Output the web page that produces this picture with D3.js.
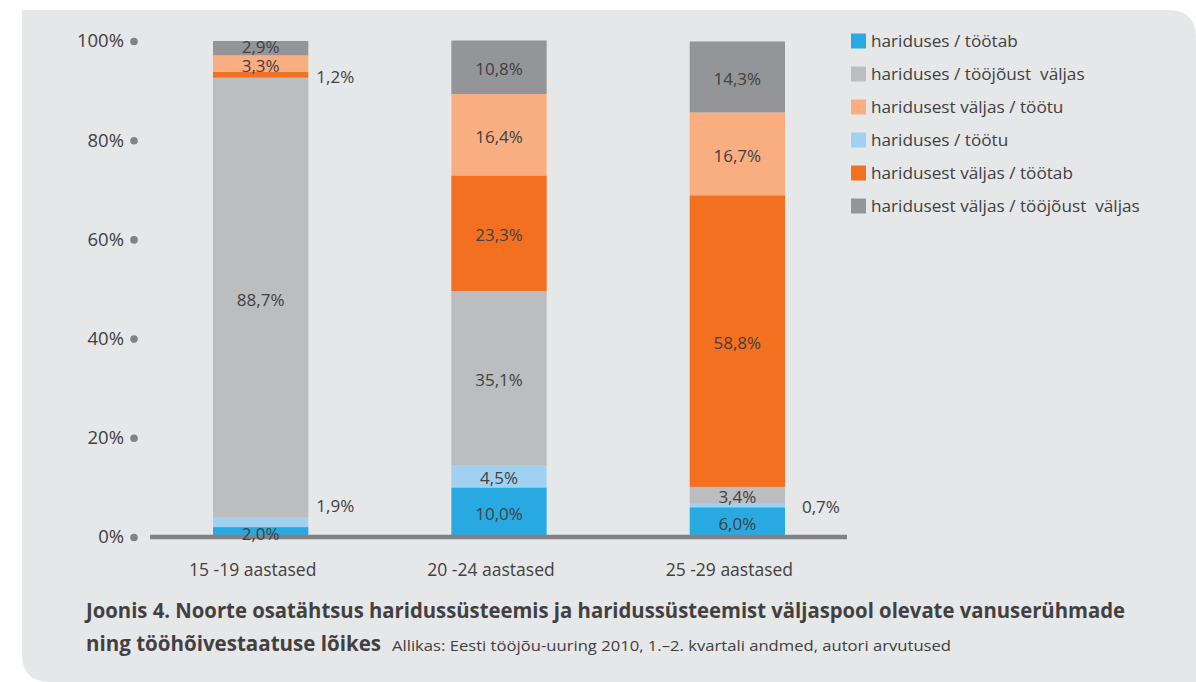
<!DOCTYPE html>
<html>
<head>
<meta charset="utf-8">
<script src="https://cdn.jsdelivr.net/npm/d3@7"></script>
<style>
  html, body { margin: 0; padding: 0; background: #ffffff; }
  svg { display: block; }
  text { font-family: "Open Sans", "Noto Sans", sans-serif; fill: #414042; white-space: pre; }
</style>
</head>
<body>
<div id="container"></div>
<script>
/* CONSTANTS AND GLOBALS */
const width = 1196,
    height = 682;

// DATA
const categories = ["15 -19 aastased", "20 -24 aastased", "25 -29 aastased"];
const keys = ["hTootab", "hTootu", "hValjas", "vTootab", "vTootu", "vValjas"];
const seriesNames = {
    hTootab: "hariduses / töötab",
    hTootu: "hariduses / töötu",
    hValjas: "hariduses / tööjõust  väljas",
    vTootab: "haridusest väljas / töötab",
    vTootu: "haridusest väljas / töötu",
    vValjas: "haridusest väljas / tööjõust  väljas"
};
const hTootab = [2.0, 10.0, 6.0];
const hTootu = [1.9, 4.5, 0.7];
const hValjas = [88.7, 35.1, 3.4];
const vTootab = [1.2, 23.3, 58.8];
const vTootu = [3.3, 16.4, 16.7];
const vValjas = [2.9, 10.8, 14.3];
const legendOrder = ["hTootab", "hValjas", "vTootu", "hTootu", "vTootab", "vValjas"];
const yTicks = [0, 20, 40, 60, 80, 100];
const captionBold1 = "Joonis 4. Noorte osatähtsus haridussüsteemis ja haridussüsteemist väljaspool olevate vanuserühmade";
const captionBold2 = "ning tööhõivestaatuse lõikes";
const captionSource = "Allikas: Eesti tööjõu-uuring 2010, 1.–2. kvartali andmed, autori arvutused";

const seriesValues = { hTootab, hTootu, hValjas, vTootab, vTootu, vValjas };
const colors = {
    hTootab: "#29a9e1",
    hTootu: "#a0d1f0",
    hValjas: "#bcbdbf",
    vTootab: "#f37021",
    vTootu: "#f9ae82",
    vValjas: "#939598"
};

const table = categories.map((c, i) => {
    const row = { cat: c };
    keys.forEach(k => row[k] = seriesValues[k][i]);
    return row;
});

// SVG
const svg = d3.select("#container")
    .append("svg")
    .attr("width", width)
    .attr("height", height);

// PANEL (square top-left, rounded top-right and bottom-left)
const px0 = 22, py0 = 10, px1 = 1196, py1 = 682, r = 28;
svg.append("path")
    .attr("d", `M${px0},${py0} H${px1 - r} Q${px1},${py0} ${px1},${py0 + r} V${py1} H${px0 + r} Q${px0},${py1} ${px0},${py1 - r} Z`)
    .attr("fill", "#e6e7e8");

// SCALES
const x = d3.scaleBand()
    .domain(categories)
    .range([141.5, 856.5])
    .paddingInner(0.6)
    .paddingOuter(0.3);

const y = d3.scaleLinear()
    .domain([0, 100])
    .range([537, 41]);

// Y AXIS
const yAxis = svg.append("g")
    .attr("transform", "translate(124,0)")
    .call(d3.axisLeft(y).tickValues(yTicks).tickSize(0).tickPadding(0).tickFormat(d => d + "%"));
yAxis.select(".domain").remove();
yAxis.selectAll("text")
    .attr("font-size", 18.5)
    .attr("fill", "#414042")
    .attr("font-family", null);
yAxis.selectAll(".tick")
    .append("circle")
    .attr("cx", 10)
    .attr("cy", 0)
    .attr("r", 3.8)
    .attr("fill", "#808285");

// STACK
const stack = d3.stack().keys(keys)(table);

const layers = svg.selectAll("g.layer")
    .data(stack)
    .join("g")
    .attr("class", "layer")
    .attr("fill", d => colors[d.key]);

layers.selectAll("rect")
    .data(d => d)
    .join("rect")
    .attr("x", d => x(d.data.cat))
    .attr("width", x.bandwidth())
    .attr("y", d => y(d[1]))
    .attr("height", d => y(d[0]) - y(d[1]));

// BASELINE
svg.append("line")
    .attr("x1", 150)
    .attr("x2", 847)
    .attr("y1", y(0))
    .attr("y2", y(0))
    .attr("stroke", "#808285")
    .attr("stroke-width", 4.5);

// X LABELS
svg.selectAll("text.cat")
    .data(categories)
    .join("text")
    .attr("class", "cat")
    .attr("x", d => x(d) + x.bandwidth() / 2 - 8)
    .attr("y", 576)
    .attr("text-anchor", "middle")
    .attr("font-size", 17.5)
    .text(d => d);

// VALUE LABELS
const darkLabels = new Set(["hValjas"]);
// small hand nudges so crowded labels read like the original
const labelNudge = { "hTootu|0": -18, "vValjas|0": -3, "vTootu|0": 0 };
const fmt = v => d3.format(".1f")(v).replace(".", ",") + "%";

stack.forEach(layer => {
    layer.forEach((seg, i) => {
        const v = seg.data[layer.key];
        const outside = v < 2;
        const cx = outside ? x(seg.data.cat) + x.bandwidth() + 8 + (i === 2 ? 9 : 0)
                           : x(seg.data.cat) + x.bandwidth() / 2;
        const cy = (y(seg[0]) + y(seg[1])) / 2 + 2 + (labelNudge[layer.key + "|" + i] || 0);
        svg.append("text")
            .attr("x", cx)
            .attr("y", cy)
            .attr("dy", "0.35em")
            .attr("text-anchor", outside ? "start" : "middle")
            .attr("font-size", 17)
            .attr("fill", darkLabels.has(layer.key) ? "#231f20" : "#414042")
            .text(fmt(v));
    });
});

// LEGEND
const legend = svg.selectAll("g.legend")
    .data(legendOrder)
    .join("g")
    .attr("class", "legend")
    .attr("transform", (d, i) => `translate(851, ${41 + i * 33})`);

legend.append("rect")
    .attr("x", 0)
    .attr("y", -7.5)
    .attr("width", 15)
    .attr("height", 15)
    .attr("fill", d => colors[d]);

legend.append("text")
    .attr("x", 20)
    .attr("y", 0)
    .attr("dy", "0.35em")
    .attr("font-size", 17.2)
    .text(d => seriesNames[d]);

// CAPTION
svg.append("text")
    .attr("x", 86)
    .attr("y", 618)
    .attr("font-size", 21)
    .attr("font-weight", "bold")
    .attr("textLength", 1039)
    .attr("lengthAdjust", "spacingAndGlyphs")
    .text(captionBold1);

svg.append("text")
    .attr("x", 86)
    .attr("y", 651)
    .attr("font-size", 21)
    .attr("font-weight", "bold")
    .attr("textLength", 295)
    .attr("lengthAdjust", "spacingAndGlyphs")
    .text(captionBold2);

svg.append("text")
    .attr("x", 392)
    .attr("y", 651)
    .attr("font-size", 15)
    .attr("textLength", 559)
    .attr("lengthAdjust", "spacingAndGlyphs")
    .text(captionSource);
</script>
</body>
</html>
